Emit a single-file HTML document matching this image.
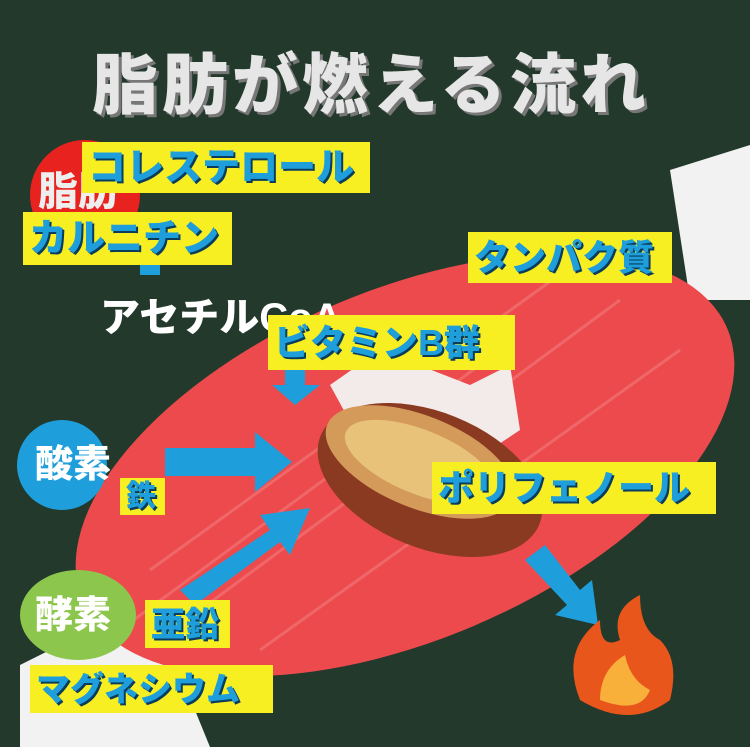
<!DOCTYPE html>
<html><head><meta charset="utf-8"><style>
body{margin:0;width:750px;height:747px;overflow:hidden;background:#22392c;position:relative;font-family:"Liberation Sans","Noto Sans CJK JP",sans-serif}
.y{position:absolute;background:#f8ef22;color:#1e9fdc;font-weight:900;white-space:nowrap;line-height:1;text-shadow:2px 2px 0 #0b3c5a;box-sizing:border-box;padding-left:6px}
.w{position:absolute;color:#fff;font-weight:900;white-space:nowrap;line-height:1}
</style></head><body>
<svg width="750" height="747" style="position:absolute;left:0;top:0">
<path d="M670 170 L750 145 L750 300 L690 300 Z" fill="#f2f2f2"/>
<path d="M20 665 L150 600 L210 747 L20 747 Z" fill="#f2f2f2"/>
<ellipse cx="405" cy="465" rx="350" ry="175" transform="rotate(-23 405 465)" fill="#ec4a4c"/>
<g stroke="#f27b7c" stroke-width="3" opacity="0.6">
<line x1="200" y1="610" x2="620" y2="300"/><line x1="150" y1="570" x2="580" y2="260"/><line x1="260" y1="650" x2="680" y2="350"/><line x1="120" y1="630" x2="500" y2="350"/>
</g>
<path d="M330 385 L380 350 L470 385 L510 365 L520 430 L490 450 L420 430 L360 440 Z" fill="#f3eaea"/>
<circle cx="85" cy="195" r="55" fill="#e8221f"/>
<circle cx="62" cy="465" r="45" fill="#1e9fdc"/>
<ellipse cx="78" cy="615" rx="58" ry="45" fill="#8cc64c"/>
<g fill="#1e9fdc">
<path d="M165 448 L255 448 L255 432 L292 462 L255 492 L255 476 L165 476 Z"/>
<path d="M180 590 L270 530 L260 515 L310 508 L290 555 L280 542 L195 605 Z"/>
<path d="M285 365 L305 365 L305 385 L320 385 L295 405 L272 385 L285 385 Z"/>
<path d="M525 560 L545 545 L580 590 L592 580 L598 625 L555 615 L567 605 Z"/>
<path d="M140 262 L160 262 L160 275 L140 275 Z"/>
</g>
<ellipse cx="430" cy="480" rx="118" ry="68" transform="rotate(22 430 480)" fill="#8b3a22"/>
<ellipse cx="420" cy="462" rx="100" ry="46" transform="rotate(22 420 462)" fill="#d49a5a"/>
<ellipse cx="420" cy="462" rx="80" ry="32" transform="rotate(22 420 462)" fill="#e9c27a"/>
<path d="M580 700 Q560 650 600 620 Q600 650 620 640 Q610 610 640 595 Q640 630 660 640 Q680 660 670 700 Q630 730 580 700 Z" fill="#e8561c"/>
<path d="M600 700 Q600 670 625 655 Q630 680 650 690 Q640 715 600 700 Z" fill="#f8b03a"/>
</svg>
<div class="w" style="left:92px;top:52px;font-size:66px;letter-spacing:4px;color:#e6e6e6;text-shadow:3px 3px 0 #777">脂肪が燃える流れ</div>
<div class="w" style="left:38px;top:172px;font-size:40px;color:#eee">脂肪</div>
<div class="w" style="left:100px;top:298px;font-size:40px">アセチルCoA</div>
<div class="w" style="left:35px;top:446px;font-size:38px">酸素</div>
<div class="w" style="left:35px;top:597px;font-size:38px">酵素</div>
<div class="y" style="left:82px;top:142px;width:288px;height:51px;font-size:38px;padding-top:7px">コレステロール</div>
<div class="y" style="left:23px;top:212px;width:209px;height:53px;font-size:38px;padding-top:8px">カルニチン</div>
<div class="y" style="left:468px;top:232px;width:204px;height:51px;font-size:36px;padding-top:8px">タンパク質</div>
<div class="y" style="left:268px;top:315px;width:247px;height:55px;font-size:36px;padding-top:10px">ビタミンB群</div>
<div class="y" style="left:432px;top:462px;width:284px;height:52px;font-size:36px;padding-top:8px">ポリフェノール</div>
<div class="y" style="left:120px;top:478px;width:45px;height:37px;font-size:30px;padding:4px 0 0 6px">鉄</div>
<div class="y" style="left:145px;top:600px;width:85px;height:48px;font-size:34px;padding-top:8px">亜鉛</div>
<div class="y" style="left:30px;top:665px;width:243px;height:48px;font-size:34px;padding-top:8px">マグネシウム</div>
</body></html>
